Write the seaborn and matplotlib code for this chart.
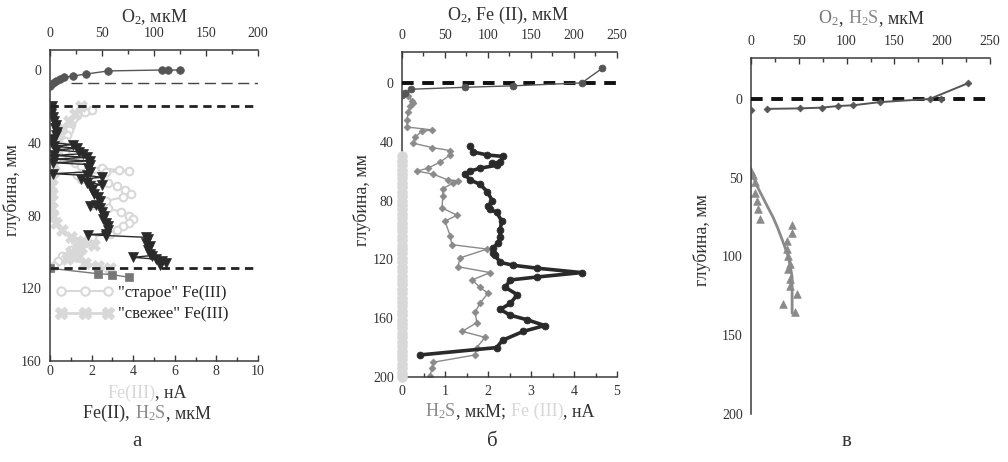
import matplotlib
matplotlib.use('Agg')
import matplotlib.pyplot as plt
import seaborn as sns
from matplotlib.ticker import MultipleLocator
from matplotlib.offsetbox import TextArea, HPacker, AnchoredOffsetbox
from matplotlib.lines import Line2D

# ---------------- panel а ----------------
a_o2_depth = [0, 0, 0, 0.5, 2.2, 3.3, 4.0, 4.9, 6.0, 7.3, 8.8]
a_o2 = [125, 113, 108, 56, 35, 22, 13, 10, 6, 3, 0]

a_fe2_depth = [20, 22, 24, 26, 28, 30, 32, 34, 36, 38, 40, 41, 42, 43, 44, 45, 46, 47, 48, 49,
               50, 51, 52, 54, 56, 57, 58, 59, 60, 62, 63, 64, 66, 68, 70, 72, 74, 75, 76, 78,
               80, 82, 84, 86, 88, 90, 90.5, 91, 92, 93, 95, 97, 99, 101, 102, 103, 104, 105, 106, 107]
a_fe2 = [0.1, 0.1, 0.05, 0.15, 0.2, 0.3, 0.25, 0.35, 0.3, 0.15, 0.1, 1.1, 0.2, 1.3, 0.3, 1.4, 1.6, 0.2, 1.8, 0.2,
         1.9, 0.15, 1.9, 1.85, 1.9, 0.15, 1.8, 2.5, 1.5, 1.8, 2.5, 1.9, 2.0, 2.1, 2.3, 2.4, 2.2, 1.9, 2.4, 2.5,
         2.6, 2.55, 2.7, 2.8, 2.8, 2.7, 1.85, 2.7, 4.6, 4.7, 4.6, 4.8, 4.7, 4.8, 4.9, 4.0, 5.1, 5.4, 5.6, 5.3]

a_h2s_depth = [109, 112, 112.5, 114]
a_h2s = [0.0, 2.3, 3.0, 3.8]

a_fe3_old_depth = [22, 23, 25, 27, 30, 33, 36, 39, 42, 45, 48, 51, 53, 54, 55, 55.5, 56, 57, 58, 60,
                   62, 64, 66, 68, 70, 72, 74, 76, 78, 80, 82, 84, 86, 88, 90, 92, 94, 96, 99, 102, 105, 108]
a_fe3_old = [2.0, 1.7, 1.3, 1.1, 1.0, 0.9, 0.8, 0.7, 0.6, 0.7, 0.9, 1.2, 1.5, 2.5, 3.3, 3.8, 2.7, 1.8, 1.3, 1.5,
             2.8, 3.2, 3.6, 3.9, 3.5, 2.7, 2.0, 2.8, 3.4, 3.8, 4.0, 3.8, 3.5, 3.2, 2.9, 2.0, 1.2, 1.4, 1.0, 0.6, 0.4, 0.2]

a_fe3_new_depth = [20, 24, 28, 32, 36, 40, 44, 48, 52, 56, 60, 64, 68, 72, 76, 80, 84, 88, 92, 94,
                   96, 98, 100, 102, 104, 106, 108, 109]
a_fe3_new = [1.5, 1.2, 0.9, 0.6, 0.4, 0.3, 0.3, 0.25, 0.2, 0.15, 0.1, 0.05, 0.1, 0.05, 0.1, 0.15, 0.3, 0.6, 1.0, 1.6,
             2.1, 1.5, 1.0, 1.4, 0.8, 1.7, 2.3, 2.9]

# ---------------- panel б ----------------
b_o2_depth = [-10, 0, 2, 3, 4.3, 7, 8]
b_o2 = [233, 209, 129, 73, 11, 3, 0]

b_fe2_depth = [43, 47, 49, 50, 54, 54.5, 56, 58, 60, 62, 66, 69, 74, 80, 84, 86, 88, 94, 100, 105, 109,
               112, 116, 117, 122, 124, 126, 129, 132, 134, 139, 144, 150, 154, 158, 161, 165, 169, 175, 180, 185]
b_fe2 = [79, 83, 99, 117, 114, 105, 110, 91, 79, 73, 79, 91, 99, 105, 100, 102, 110, 116, 114, 114, 112,
         106, 106, 108, 114, 129, 157, 209, 157, 126, 120, 134, 126, 114, 126, 145, 166, 141, 117, 110, 21]

b_h2s_depth = [7, 9, 12, 14, 16, 20, 25, 30, 32, 33, 37, 41, 44, 46, 49, 54, 58, 60, 62, 66, 66.5, 68, 72, 77,
               85, 90, 94, 104, 110, 113, 119, 125, 129, 134, 139, 143, 150, 156, 163, 169, 173, 180, 185,
               190, 194, 199]
b_h2s = [0.07, 0.14, 0.23, 0.26, 0.19, 0.14, 0.12, 0.12, 0.7, 0.46, 0.3, 0.26, 0.7, 1.12, 1.12, 0.88, 0.6, 0.35,
         0.72, 1.07, 1.3, 1.19, 0.95, 0.95, 0.93, 1.28, 1.0, 1.12, 1.16, 1.98, 1.35, 1.3, 2.05, 1.63, 1.81, 2.0,
         1.81, 1.7, 1.74, 1.4, 1.93, 1.74, 1.7, 0.72, 0.7, 0.65]

b_fe3_depth = [50, 53, 56, 59, 62, 65, 68, 71, 74, 77, 80, 83, 86, 89, 92, 95, 98, 101, 104, 107, 110,
               113, 116, 119, 122, 125, 128, 131, 134, 137, 140, 143, 146, 149, 152, 155, 158, 161, 164,
               167, 170, 173, 176, 179, 182, 185, 188, 191, 194, 197, 200]
b_fe3 = [0] * len(b_fe3_depth)

# ---------------- panel в ----------------
c_o2_depth = [-10, 0, 2, 4, 4.5, 5.5, 6, 6.3]
c_o2 = [227, 187, 135, 107, 91, 74, 51, 17]
c_o2_extra_depth = [0, 7]
c_o2_extra = [199, 0]

c_h2s_depth = [46, 48, 53, 60, 65, 70, 76, 80, 85, 90, 95, 100, 105, 108, 114, 119, 124, 130, 135]
c_h2s = [0, 2, 4, 4, 6, 7, 9, 43, 43, 38, 38, 39, 41, 39, 41, 41, 48, 33, 46]
c_fit_depth = [46, 50, 55, 62, 68, 75, 82, 90, 95, 100, 106, 113, 120, 128, 136]
c_fit = [0, 3, 6, 12, 17, 23, 28, 33, 36, 39, 41, 43, 43, 43, 43]

# ---------------- style ----------------
sns.set_theme(style='white')
plt.rcParams['font.family'] = ['Liberation Serif', 'DejaVu Serif']
plt.rcParams['mathtext.fontset'] = 'custom'
plt.rcParams['mathtext.rm'] = 'Liberation Serif'
plt.rcParams['mathtext.it'] = 'Liberation Serif:italic'
plt.rcParams['mathtext.bf'] = 'Liberation Serif:bold'

TXT = '#333333'
SP = '#3a3a3a'
DARK = '#2a2a2a'
MID = '#555555'
GRAY = '#8a8a8a'
LG = '#d8d8d8'
TICK = 10
TITLE = 13

W, H = 1008, 462
fig = plt.figure(figsize=(W / 100, H / 100), dpi=100)


def rect(l, r, t, b):
    return [l / W, 1 - b / H, (r - l) / W, (b - t) / H]


def style(ax, left=True, bottom=True, top=False):
    for s in ['left', 'right', 'top', 'bottom']:
        ax.spines[s].set_visible(False)
    if left:
        ax.spines['left'].set_visible(True)
    if bottom:
        ax.spines['bottom'].set_visible(True)
    if top:
        ax.spines['top'].set_visible(True)
    for s in ax.spines.values():
        s.set_color(SP)
        s.set_linewidth(1.1)
    ax.grid(False)


def ctext(x, y, parts, size=TITLE, rotation=0):
    areas = [TextArea(t, textprops=dict(color=c, fontsize=size, family='Liberation Serif'))
             for t, c in parts]
    box = HPacker(children=areas, align='baseline', pad=0, sep=0)
    an = AnchoredOffsetbox(loc='center', child=box, pad=0, borderpad=0, frameon=False,
                           bbox_to_anchor=(x / W, 1 - y / H), bbox_transform=fig.transFigure)
    fig.add_artist(an)


def ticks_setup(ax, axis, major, minor, where, pad):
    a = ax.xaxis if axis == 'x' else ax.yaxis
    a.set_major_locator(MultipleLocator(major))
    a.set_minor_locator(MultipleLocator(minor))
    d = 'out' if axis == 'y' else 'in'
    ax.tick_params(axis=axis, which='major', direction=d, length=4, width=1, color=SP,
                   labelsize=TICK, labelcolor=TXT, pad=pad)
    ax.tick_params(axis=axis, which='minor', direction=d, length=3, width=1, color=SP)


# ================= panel а =================
axA = fig.add_axes(rect(50, 258, 50, 361))
style(axA, left=True, bottom=True)
axA.set_xlim(0, 10)
axA.set_ylim(160, -11)
ticks_setup(axA, 'x', 2, 1, 'bottom', 3)
ticks_setup(axA, 'y', 40, 20, 'left', 2)
axA.set_yticks([0, 40, 80, 120, 160])

sns.lineplot(x=a_fe3_old, y=a_fe3_old_depth, sort=False, estimator=None, ax=axA, color=LG, lw=1.5,
             marker='o', ms=5.5, mfc='white', mec=LG, mew=1.5)
sns.lineplot(x=a_fe3_new, y=a_fe3_new_depth, sort=False, estimator=None, ax=axA, color=LG, lw=2,
             marker='X', ms=8, mfc=LG, mec=LG, mew=0.5)
sns.lineplot(x=a_fe2, y=a_fe2_depth, sort=False, estimator=None, ax=axA, color=DARK, lw=1,
             marker='v', ms=7.5, mfc=DARK, mec=DARK, mew=0.5)
sns.lineplot(x=a_h2s, y=a_h2s_depth, sort=False, estimator=None, ax=axA, color='#777777', lw=1,
             marker='s', ms=6, mfc='#777777', mec='#777777', mew=0.5)
axA.axhline(20, color='#222222', lw=2, ls=(0, (3, 2)))
axA.axhline(109, color='#222222', lw=2, ls=(0, (3, 2)))
axA.axhline(7, xmin=0.1, xmax=1, color='#444444', lw=1, ls=(0, (8, 4)))
axA.set_xlabel('')
axA.set_ylabel('')

axAt = axA.twiny()
style(axAt, left=False, bottom=False, top=True)
axAt.set_xlim(0, 200)
axAt.set_ylim(160, -11)
ticks_setup(axAt, 'x', 50, 25, 'top', 7)
sns.lineplot(x=a_o2, y=a_o2_depth, sort=False, estimator=None, ax=axAt, color=MID, lw=1,
             marker='o', ms=5.5, mfc=MID, mec=MID, mew=0.5)
axAt.set_xlabel('')
axAt.set_ylabel('')

h_old = Line2D([], [], color=LG, lw=1.5, marker='o', ms=6, mfc='white', mec=LG, mew=1.5)
h_new = Line2D([], [], color=LG, lw=2, marker='X', ms=8, mfc=LG, mec=LG)
axA.legend([h_old, h_new], ['"старое" Fe(III)', '"свежее" Fe(III)'], loc='upper left',
           bbox_to_anchor=(0.03, 0.245), frameon=False, numpoints=3, handlelength=3.4,
           handletextpad=0.3, fontsize=12, labelspacing=0.35, borderaxespad=0, borderpad=0)

ctext(154, 17, [('O$_2$, мкМ', TXT)])
ctext(147, 393, [('Fe(III)', LG), (', нА', TXT)])
ctext(147, 413, [('Fe(II), ', TXT), ('H$_2$S', GRAY), (', мкМ', TXT)])
fig.text(12 / W, 1 - 190 / H, 'глубина, мм', rotation=90, ha='center', va='center',
         fontsize=TITLE, color=TXT)
fig.text(137 / W, 1 - 441 / H, 'а', ha='center', va='center', fontsize=15, color=TXT)

# ================= panel б =================
axB = fig.add_axes(rect(402, 617, 52, 377))
style(axB, left=True, bottom=True)
axB.set_xlim(0, 5)
axB.set_ylim(200, -21)
ticks_setup(axB, 'x', 1, 0.5, 'bottom', 6)
ticks_setup(axB, 'y', 40, 20, 'left', 2)
axB.set_yticks([0, 40, 80, 120, 160, 200])

sns.lineplot(x=b_fe3, y=b_fe3_depth, sort=False, estimator=None, ax=axB, color=LG, lw=4,
             marker='o', ms=7, mfc=LG, mec=LG, mew=0.5, zorder=3, clip_on=False)
sns.lineplot(x=b_h2s, y=b_h2s_depth, sort=False, estimator=None, ax=axB, color=GRAY, lw=1,
             marker='D', ms=3.5, mfc=GRAY, mec=GRAY, mew=0.5)
axB.axhline(0, color='#111111', lw=2.8, ls=(0, (3, 2.2)), zorder=5)
axB.set_xlabel('')
axB.set_ylabel('')

axBt = axB.twiny()
style(axBt, left=False, bottom=False, top=True)
axBt.set_xlim(0, 250)
axBt.set_ylim(200, -21)
ticks_setup(axBt, 'x', 50, 25, 'top', 7)
sns.lineplot(x=b_fe2, y=b_fe2_depth, sort=False, estimator=None, ax=axBt, color=DARK, lw=2.6,
             marker='o', ms=5, mfc=DARK, mec=DARK, mew=0.5)
sns.lineplot(x=b_o2, y=b_o2_depth, sort=False, estimator=None, ax=axBt, color=MID, lw=1,
             marker='o', ms=5, mfc=MID, mec=MID, mew=0.5)
axBt.set_xlabel('')
axBt.set_ylabel('')

ctext(508, 15, [('O$_2$, Fe (II), мкМ', TXT)])
ctext(510, 411, [('H$_2$S', GRAY), (', мкМ; ', TXT), ('Fe (III)', LG), (', нА', TXT)])
fig.text(362 / W, 1 - 200 / H, 'глубина, мм', rotation=90, ha='center', va='center',
         fontsize=TITLE, color=TXT)
fig.text(492 / W, 1 - 441 / H, 'б', ha='center', va='center', fontsize=15, color=TXT)

# ================= panel в =================
axC = fig.add_axes(rect(751, 990, 58, 414))
style(axC, left=True, bottom=False, top=True)
axC.set_xlim(0, 250)
axC.set_ylim(200, -26)
axC.xaxis.tick_top()
ticks_setup(axC, 'x', 50, 25, 'top', 7)
ticks_setup(axC, 'y', 50, 25, 'left', 2)
axC.set_yticks([0, 50, 100, 150, 200])

sns.lineplot(x=c_fit, y=c_fit_depth, sort=False, estimator=None, ax=axC, color=GRAY, lw=2)
sns.scatterplot(x=c_h2s, y=c_h2s_depth, ax=axC, color=GRAY, marker='^', s=30, edgecolor=GRAY,
                linewidth=0.5)
axC.axhline(0, color='#111111', lw=2.8, ls=(0, (3, 2.2)), zorder=5)
sns.lineplot(x=c_o2, y=c_o2_depth, sort=False, estimator=None, ax=axC, color=MID, lw=1.4,
             marker='D', ms=3.5, mfc=MID, mec=MID, mew=0.5, zorder=6)
sns.scatterplot(x=c_o2_extra, y=c_o2_extra_depth, ax=axC, color=MID, marker='D', s=14,
                edgecolor=MID, zorder=6)
axC.set_xlabel('')
axC.set_ylabel('')

ctext(871, 18, [('O$_2$', '#777777'), (', ', TXT), ('H$_2$S', GRAY), (', мкМ', TXT)])
fig.text(702 / W, 1 - 240 / H, 'глубина, мм', rotation=90, ha='center', va='center',
         fontsize=TITLE, color=TXT)
fig.text(847 / W, 1 - 441 / H, 'в', ha='center', va='center', fontsize=15, color=TXT)

fig.savefig('out.png', dpi=100)
